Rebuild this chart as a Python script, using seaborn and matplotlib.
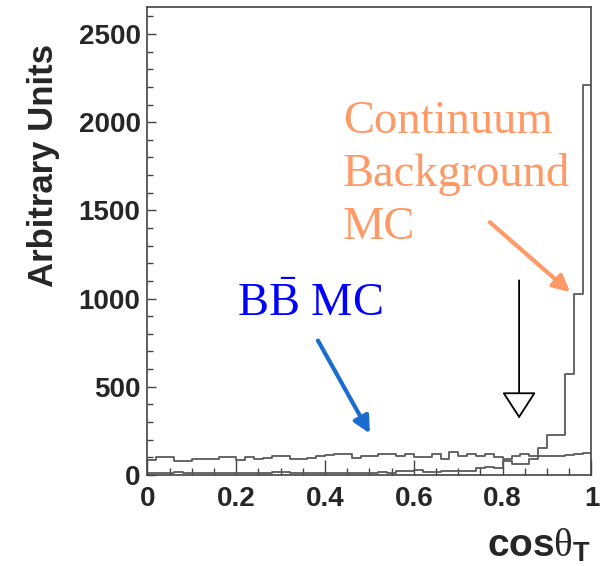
import numpy as np
import pandas as pd
import seaborn as sns
import matplotlib
matplotlib.use("Agg")
import matplotlib.pyplot as plt
from matplotlib.ticker import MultipleLocator, FuncFormatter

# 50 bins of 0.02 in cos(theta_T)
bin_edges = list(np.round(np.linspace(0.0, 1.0, 51), 4))

# B-Bbar MC, roughly flat
bb_counts = [86, 101, 101, 82, 82, 92, 88, 88, 101, 101,
             86, 101, 88, 95, 110, 110, 92, 92, 95, 110,
             114, 120, 120, 97, 105, 105, 120, 120, 107, 120,
             101, 101, 120, 92, 133, 110, 119, 110, 120, 101,
             92, 110, 120, 106, 106, 108, 110, 114, 119, 125]

# continuum (qq) MC, peaks at cos(theta_T) -> 1
continuum_counts = [10, 12, 14, 16, 12, 14, 12, 10, 12, 14,
                    12, 14, 12, 12, 16, 16, 14, 12, 14, 12,
                    14, 12, 14, 14, 12, 14, 16, 14, 22, 22,
                    28, 16, 15, 25, 25, 25, 25, 38, 44, 38,
                    82, 64, 64, 92, 155, 227, 227, 570, 1025, 2210]

cut_value = 0.837


def set_style():
    sns.set_style("white")
    plt.rcParams['font.family'] = ['Liberation Sans', 'DejaVu Sans']
    plt.rcParams['mathtext.fontset'] = 'custom'
    plt.rcParams['mathtext.rm'] = 'Liberation Serif'
    plt.rcParams['mathtext.it'] = 'Liberation Serif'
    plt.rcParams['mathtext.bf'] = 'Liberation Sans:bold'


set_style()

edges = np.array(bin_edges)
centers = (edges[:-1] + edges[1:]) / 2
df = pd.DataFrame({
    "cos": np.concatenate([centers, centers]),
    "w": bb_counts + continuum_counts,
    "sample": ["BB"] * len(bb_counts) + ["qq"] * len(continuum_counts),
})

fig = plt.figure(figsize=(6.02, 5.66), dpi=100)
ax = fig.add_axes([0.245, 0.1608, 0.7375, 0.8269])

for name, sub in df.groupby("sample"):
    sns.histplot(data=sub, x="cos", weights="w", bins=bin_edges,
                 element="step", fill=False, color="#5a5a5a",
                 linewidth=1.3, ax=ax)

ax.set_xlim(0, 1)
ax.set_ylim(0, 2653)
ax.set_ylabel("")

for s in ax.spines.values():
    s.set_visible(True)
    s.set_color("#444444")
    s.set_linewidth(1.2)

ax.xaxis.set_major_locator(MultipleLocator(0.2))
ax.xaxis.set_minor_locator(MultipleLocator(0.05))
ax.yaxis.set_major_locator(MultipleLocator(500))
ax.yaxis.set_minor_locator(MultipleLocator(100))
ax.xaxis.set_major_formatter(FuncFormatter(lambda v, _: f"{v:g}"))
ax.tick_params(direction="in", which="both", top=False, right=False,
               bottom=True, left=True, color="#444444", width=1.0)
ax.tick_params(axis="x", which="major", length=11, pad=8)
ax.tick_params(axis="x", which="minor", length=5)
ax.tick_params(axis="y", which="major", length=6.5, pad=5)
ax.tick_params(axis="y", which="minor", length=4.3)
for lab in ax.get_xticklabels() + ax.get_yticklabels():
    lab.set_fontsize(20)
    lab.set_fontweight("bold")

ax.set_ylabel("Arbitrary Units", fontsize=25, fontweight="bold")
ax.yaxis.set_label_coords(-0.197, 0.662)
ax.set_xlabel(r"$\mathbf{cos}\mathrm{\theta}_{\mathbf{T}}$", fontsize=28,
              loc="right")
ax.xaxis.set_label_coords(1.0, -0.11)

# annotations
ax.text(0.44, 2125, "Continuum\nBackground\nMC", color="#FF9966",
        fontsize=33.5, family="Liberation Serif", va="top", ha="left",
        linespacing=1.32)
ax.text(0.202, 904, r"$\mathrm{B\bar{B}}$ MC", color="blue",
        fontsize=33.5, family="Liberation Serif", va="baseline")

ax.annotate("", xy=(0.952, 1036), xytext=(0.771, 1433),
            arrowprops=dict(arrowstyle="-|>", color="#FF9966", lw=3,
                            mutation_scale=25, shrinkA=0, shrinkB=0))
ax.annotate("", xy=(0.501, 235), xytext=(0.384, 762),
            arrowprops=dict(arrowstyle="-|>", color="#1a6ccf", lw=3,
                            mutation_scale=25, shrinkA=0, shrinkB=0))
ax.annotate("", xy=(cut_value, 320), xytext=(cut_value, 1103),
            arrowprops=dict(arrowstyle="-|>,head_length=0.85,head_width=0.55",
                            facecolor="white", edgecolor="black", lw=1.3,
                            mutation_scale=20, shrinkA=0, shrinkB=0))

fig.savefig("out.png", dpi=100)
